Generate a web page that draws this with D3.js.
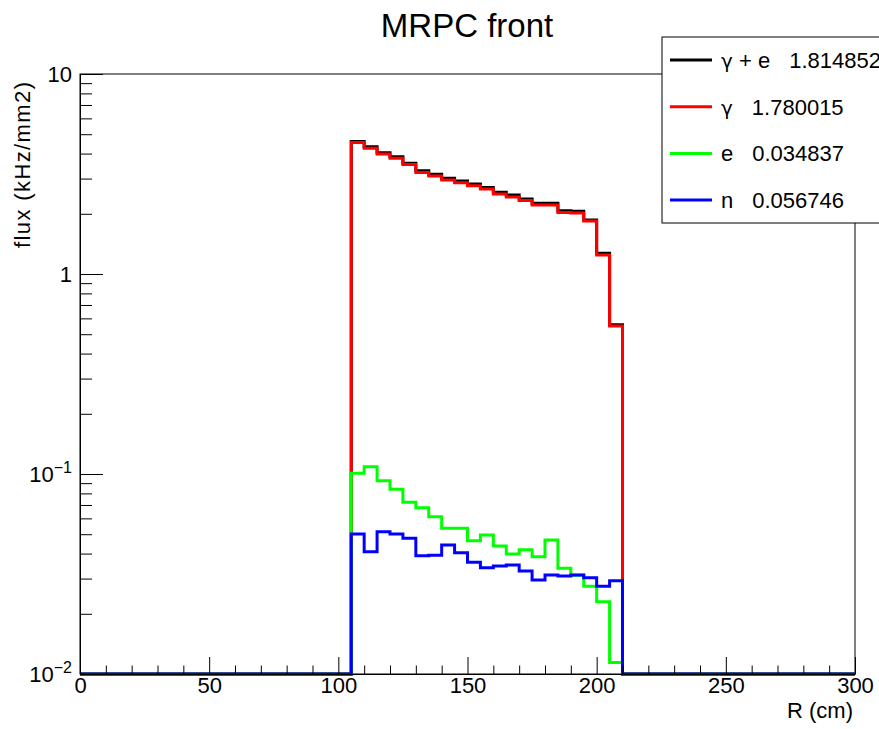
<!DOCTYPE html>
<html>
<head>
<meta charset="utf-8">
<script src="https://cdn.jsdelivr.net/npm/d3@7"></script>
<style>
  body { margin: 0; background: #fff; }
  svg { display: block; font-family: "Liberation Sans", Arial, Helvetica, sans-serif; }
</style>
</head>
<body>
<div id="chart"></div>
<script>
// bin edges (cm) of the non-empty part of the histogram
let binEdges = [105, 110, 115, 120, 125, 130, 135, 140, 145, 150, 155, 160, 165, 170, 175, 180, 185, 190, 195, 200, 205, 210];

// flux per bin (kHz/mm2)
let gammaE = [4.60, 4.33, 4.04, 3.86, 3.58, 3.28, 3.15, 3.01, 2.92, 2.82, 2.71, 2.56, 2.48, 2.37, 2.26, 2.26, 2.07, 2.06, 1.86, 1.27, 0.557];
let gamma = [4.55, 4.25, 3.98, 3.79, 3.53, 3.22, 3.09, 2.95, 2.86, 2.76, 2.66, 2.51, 2.43, 2.33, 2.21, 2.21, 2.03, 2.02, 1.84, 1.245, 0.55];
let electron = [0.1008, 0.1088, 0.0926, 0.0839, 0.0722, 0.0679, 0.0612, 0.0535, 0.0535, 0.0464, 0.0495, 0.0437, 0.0398, 0.0418, 0.0386, 0.0468, 0.0338, 0.0312, 0.0275, 0.0230, 0.0114];
let neutron = [0.0501, 0.0409, 0.0514, 0.0501, 0.0477, 0.0390, 0.0392, 0.0442, 0.0404, 0.0362, 0.0340, 0.0347, 0.0351, 0.0327, 0.0295, 0.0313, 0.0309, 0.0313, 0.0303, 0.0275, 0.0293];

let seriesNames = [["γ", " + e"], ["γ", ""], ["", "e"], ["", "n"]];
let seriesTotals = ["1.814852", "1.780015", "0.034837", "0.056746"];
let seriesColors = ["#000000", "#ff0000", "#00ff00", "#0000ff"];

let xMajorTicks = [0, 50, 100, 150, 200, 250, 300];
let yMajorTicks = [0.01, 0.1, 1, 10];
let yTickLabels = [["10", "−2"], ["10", "−1"], ["1", ""], ["10", ""]];

let width = 879, height = 729;
let margin = {top: 74, right: 24, bottom: 55, left: 80};

let svg = d3.select("#chart")
    .append("svg")
    .attr("width", width)
    .attr("height", height);

let xScale = d3.scaleLinear().domain([0, 300]).range([margin.left, width - margin.right]);
let yScale = d3.scaleLog().domain([0.01, 10]).range([height - margin.bottom, margin.top]);

let x0 = xScale(0), x1 = xScale(300), y0 = yScale(0.01), y1 = yScale(10);

// frame
svg.append("rect")
    .attr("x", x0).attr("y", y1)
    .attr("width", x1 - x0).attr("height", y0 - y1)
    .attr("fill", "none")
    .attr("stroke", "#000")
    .attr("stroke-width", 1);

// histograms
let allSeries = [gammaE, gamma, electron, neutron];
let line = d3.line()
    .x(d => xScale(d[0]))
    .y(d => yScale(d[1]))
    .curve(d3.curveStepAfter);

allSeries.forEach((vals, i) => {
    let pts = [[0, 0.01]];
    vals.forEach((v, j) => pts.push([binEdges[j], v]));
    pts.push([binEdges[binEdges.length - 1], 0.01]);
    pts.push([300, 0.01]);
    svg.append("path")
        .attr("d", line(pts))
        .attr("fill", "none")
        .attr("stroke", seriesColors[i])
        .attr("stroke-width", 3);
});

// x axis (ticks pointing inward)
let xMinor = d3.range(0, 301, 10).filter(v => v % 50 !== 0);
svg.append("g")
    .attr("transform", `translate(0, ${y0})`)
    .call(d3.axisBottom(xScale).tickValues(xMinor).tickSizeInner(-8.5).tickSizeOuter(0).tickFormat(""))
    .call(g => g.select(".domain").remove());
let xAxisG = svg.append("g")
    .attr("transform", `translate(0, ${y0})`)
    .call(d3.axisBottom(xScale).tickValues(xMajorTicks).tickSizeInner(-17).tickSizeOuter(0).tickPadding(19).tickFormat(d3.format("d")));
xAxisG.select(".domain").attr("stroke", "#000");
xAxisG.selectAll("text")
    .attr("font-size", "22px")
    .attr("font-family", "'Liberation Sans', Arial, sans-serif")
    .attr("fill", "#000")
    .attr("dy", null);

// y axis (log, ticks pointing inward)
let yMinor = [];
[0.01, 0.1, 1].forEach(dec => { for (let k = 2; k <= 9; k++) yMinor.push(dec * k); });
svg.append("g")
    .attr("transform", `translate(${x0}, 0)`)
    .call(d3.axisLeft(yScale).tickValues(yMinor).tickSizeInner(-12).tickSizeOuter(0).tickFormat(""))
    .call(g => g.select(".domain").remove());
svg.append("g")
    .attr("transform", `translate(${x0}, 0)`)
    .call(d3.axisLeft(yScale).tickValues(yMajorTicks).tickSizeInner(-23).tickSizeOuter(0).tickFormat(""))
    .call(g => g.select(".domain").attr("stroke", "#000"));

let yLab = svg.append("g").selectAll("text")
    .data(yMajorTicks)
    .enter()
    .append("text")
    .attr("x", x0 - 8)
    .attr("y", d => yScale(d) + 8)
    .attr("text-anchor", "end")
    .attr("font-size", "22px")
    .attr("fill", "#000");
yLab.each(function(d, i) {
    let t = d3.select(this);
    let lab = yTickLabels[i];
    t.append("tspan").text(lab[0]);
    if (lab[1]) {
        t.append("tspan")
            .attr("dy", -9)
            .attr("font-size", "16px")
            .text(lab[1]);
    }
});

// axis titles
svg.append("text")
    .attr("x", x1 - 2)
    .attr("y", 718)
    .attr("text-anchor", "end")
    .attr("font-size", "22px")
    .text("R (cm)");

svg.append("text")
    .attr("transform", "rotate(-90)")
    .attr("x", -82)
    .attr("y", 30)
    .attr("text-anchor", "end")
    .attr("font-size", "22px")
    .attr("textLength", 166)
    .attr("lengthAdjust", "spacing")
    .text("flux (kHz/mm2)");

// title
svg.append("text")
    .attr("x", 467)
    .attr("y", 37)
    .attr("text-anchor", "middle")
    .attr("font-size", "33px")
    .text("MRPC front");

// legend
let legend = svg.append("g").attr("class", "legend");
legend.append("rect")
    .attr("x", 662).attr("y", 37)
    .attr("width", 240).attr("height", 186)
    .attr("fill", "#fff")
    .attr("stroke", "#000")
    .attr("stroke-width", 1);

let legendItems = legend.selectAll(".legend-item")
    .data(seriesNames)
    .enter()
    .append("g")
    .attr("class", "legend-item")
    .attr("transform", (d, i) => `translate(0, ${60 + i * 46.7})`);

legendItems.append("line")
    .attr("x1", 670).attr("x2", 712)
    .attr("y1", 0).attr("y2", 0)
    .attr("stroke", (d, i) => seriesColors[i])
    .attr("stroke-width", 3);

legendItems.each(function(d, i) {
    let g = d3.select(this);
    let lab = g.append("text")
        .attr("x", 721)
        .attr("y", 8)
        .attr("font-size", "22px")
        .attr("xml:space", "preserve");
    if (d[0]) {
        lab.append("tspan")
            .attr("font-family", "'DejaVu Sans', sans-serif")
            .attr("font-size", "20px")
            .text(d[0]);
    }
    lab.append("tspan").text(d[1]);
    let w = lab.node().getComputedTextLength();
    g.append("text")
        .attr("x", 721 + w + 19)
        .attr("y", 8)
        .attr("font-size", "22px")
        .text(seriesTotals[i]);
});
</script>
</body>
</html>
